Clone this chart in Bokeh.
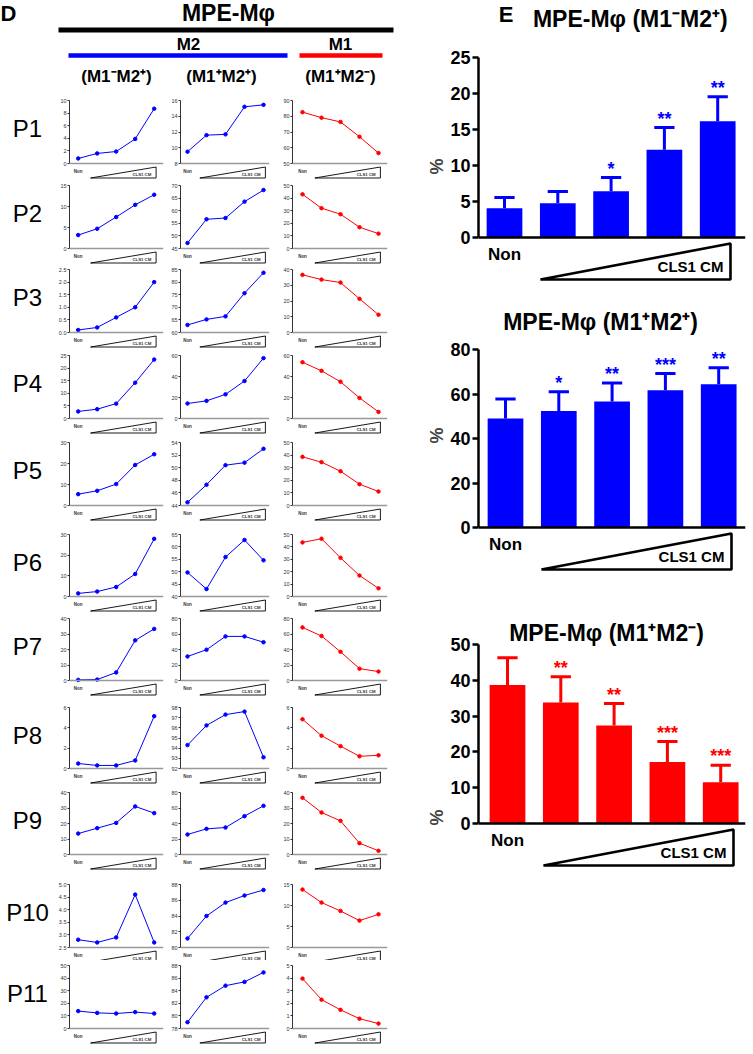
from bokeh.plotting import figure
from bokeh.layouts import row, column
from bokeh.models import Range1d, FixedTicker, Span, NumeralTickFormatter
from bokeh.core.properties import value
from bokeh.embed import file_html
from bokeh.resources import INLINE

# ---------------------------------------------------------------- data
patients = ["P1", "P2", "P3", "P4", "P5", "P6", "P7", "P8", "P9", "P10", "P11"]
dose_levels = [0, 1, 2, 3, 4]          # Non + increasing CLS1 CM

m1neg_m2pos = [
    [0.8, 1.6, 1.9, 3.9, 8.7],
    [3.2, 4.7, 7.5, 10.4, 12.8],
    [0.1, 0.2, 0.6, 1.0, 2.0],
    [2.8, 3.7, 5.9, 14.2, 23.4],
    [5.4, 7.0, 10.2, 19.3, 24.4],
    [1.5, 2.4, 4.6, 10.9, 27.9],
    [0.4, 0.6, 5.2, 25.9, 33.3],
    [0.49, 0.3, 0.3, 0.79, 5.15],
    [13.5, 17.0, 20.4, 31.0, 26.7],
    [2.81, 2.7, 2.9, 4.6, 2.7],
    [13.8, 12.4, 11.9, 13.0, 11.9],
]
m1pos_m2pos = [
    [9.5, 11.6, 11.7, 15.2, 15.45],
    [47.2, 56.6, 57.1, 63.6, 68.2],
    [63.0, 65.2, 66.4, 75.6, 83.7],
    [14.3, 16.8, 23.0, 35.7, 57.5],
    [44.5, 47.3, 50.4, 50.8, 53.0],
    [49.7, 43.0, 55.9, 62.8, 54.6],
    [31.0, 39.7, 56.9, 56.9, 49.4],
    [94.3, 96.24, 97.3, 97.6, 93.1],
    [25.8, 33.1, 34.8, 49.5, 62.8],
    [81.15, 84.0, 85.7, 86.6, 87.3],
    [79.0, 82.95, 84.8, 85.4, 86.9],
]
m1pos_m2neg = [
    [82.6, 79.1, 76.4, 67.0, 56.6],
    [43.0, 32.0, 27.2, 16.9, 11.8],
    [36.6, 33.6, 31.7, 21.4, 11.3],
    [53.6, 45.4, 35.0, 19.6, 6.3],
    [38.6, 34.4, 27.2, 16.9, 11.1],
    [43.6, 46.6, 31.2, 16.9, 6.6],
    [68.5, 57.4, 37.0, 15.3, 11.5],
    [4.84, 3.23, 2.2, 1.2, 1.3],
    [36.6, 27.1, 21.7, 7.3, 2.4],
    [13.8, 10.7, 8.7, 6.4, 7.9],
    [3.96, 2.29, 1.48, 0.78, 0.39],
]
ticks_m1neg_m2pos = [
    [0, 2, 4, 6, 8, 10], [0, 5, 10, 15], [0, 0.5, 1.0, 1.5, 2.0, 2.5],
    [0, 5, 10, 15, 20, 25], [0, 10, 20, 30], [0, 10, 20, 30], [0, 10, 20, 30, 40],
    [0, 2, 4, 6], [0, 10, 20, 30, 40], [2.5, 3.0, 3.5, 4.0, 4.5, 5.0],
    [0, 10, 20, 30, 40, 50],
]
ticks_m1pos_m2pos = [
    [8, 10, 12, 14, 16], [45, 50, 55, 60, 65, 70], [60, 65, 70, 75, 80, 85],
    [0, 20, 40, 60], [44, 46, 48, 50, 52, 54], [40, 45, 50, 55, 60, 65],
    [0, 20, 40, 60, 80], [92, 93, 94, 95, 96, 97, 98], [0, 20, 40, 60, 80],
    [80, 82, 84, 86, 88], [78, 80, 82, 84, 86, 88],
]
ticks_m1pos_m2neg = [
    [50, 60, 70, 80, 90], [0, 10, 20, 30, 40, 50], [0, 10, 20, 30, 40],
    [0, 20, 40, 60], [0, 10, 20, 30, 40, 50], [0, 10, 20, 30, 40, 50],
    [0, 20, 40, 60, 80], [0, 2, 4, 6], [0, 10, 20, 30, 40], [0, 5, 10, 15],
    [0, 1, 2, 3, 4, 5],
]

bar_groups = [0, 1, 2, 3, 4]
mean_m1neg_m2pos = [4.07, 4.77, 6.43, 12.18, 16.16]
sd_m1neg_m2pos = [1.49, 1.62, 1.90, 3.10, 3.38]
stars_m1neg_m2pos = ["", "", "*", "**", "**"]
mean_m1pos_m2pos = [49.0, 52.4, 56.6, 61.7, 64.4]
sd_m1pos_m2pos = [8.7, 8.6, 8.4, 7.5, 7.4]
stars_m1pos_m2pos = ["", "*", "**", "***", "**"]
mean_m1pos_m2neg = [38.7, 33.8, 27.4, 17.2, 11.5]
sd_m1pos_m2neg = [7.6, 7.2, 6.1, 5.7, 4.8]
stars_m1pos_m2neg = ["", "**", "**", "***", "***"]
ticks_bar1 = [0, 5, 10, 15, 20, 25]
ticks_bar2 = [0, 20, 40, 60, 80]
ticks_bar3 = [0, 10, 20, 30, 40, 50]

# ---------------------------------------------------------------- layout geometry (page pixels)
OFF = 0
PAGE_W, PAGE_H = 753, 1054
X_SPLIT = 395
FONT = "Liberation Sans"
BLUE = "#0000ff"
RED = "#ff0000"
BASE_FIX = 0.37          # renderer draws alphabetic baselines ~0.37em low

ROW_TOP = [100, 185, 269, 355, 442, 534, 618, 707, 792, 884, 965]
ROW_BOT = [163, 248, 332, 418, 505, 596, 680, 768, 854, 947, 1028]
ROW_EDGE = [95, 180, 264, 350, 437, 529, 613, 702, 787, 879, 960, PAGE_H - OFF]
# (fig x0, fig x1, frame left, frame right, first point x)
COLS = [(55, 168, 69, 163, 77.7), (168, 273, 180, 269, 187.0), (273, X_SPLIT, 292, 387, 302.0)]
PT_STEP = 19.0


def base_fig(x0, x1, y0, y1, xr, yr, left=0, right=0, yaxis=None):
    p = figure(width=int(round(x1 - x0)), height=int(round(y1 - y0)),
               x_range=xr, y_range=yr, x_axis_location=None, y_axis_location=yaxis,
               min_border_left=int(left), min_border_right=int(right),
               min_border_top=0, min_border_bottom=0,
               toolbar_location=None, output_backend="svg", outline_line_color=None)
    p.grid.visible = False
    return p


def deco_fig(x0, x1, y0, y1):
    return base_fig(x0, x1, y0, y1, Range1d(x0, x1), Range1d(y1, y0))


def fs(size):
    return "%gpx" % size


def txt(p, x, y, s, size, align="center", bold=True, color="black"):
    # y is the visual baseline in page pixels (deco figures use page coordinates)
    p.text(x=[x], y=[y - BASE_FIX * size], text=[s], text_font=value(FONT), text_font_size=fs(size),
           text_font_style="bold" if bold else "normal", text_align=align,
           text_baseline="alphabetic", text_color=color)


# ---------------------------------------------------------------- left header
hdr = deco_fig(OFF, X_SPLIT, OFF, ROW_EDGE[0])
txt(hdr, 0, 20.7, "D", 22, align="left")
txt(hdr, 228, 20.7, "MPE-Mφ", 23)
hdr.segment(x0=[58], y0=[29.5], x1=[393], y1=[29.5], line_color="black", line_width=5)
txt(hdr, 188, 50, "M2", 17)
txt(hdr, 340, 50, "M1", 17)
hdr.segment(x0=[68], y0=[55], x1=[287], y1=[55], line_color=BLUE, line_width=4.5)
hdr.segment(x0=[299], y0=[55], x1=[382], y1=[55], line_color=RED, line_width=4.5)
txt(hdr, 116, 82, "(M1⁻M2⁺)", 17)
txt(hdr, 221, 82, "(M1⁺M2⁺)", 17)
txt(hdr, 340, 82, "(M1⁺M2⁻)", 17)


def label_fig(r):
    p = deco_fig(OFF, COLS[0][0], ROW_EDGE[r], ROW_EDGE[r + 1])
    txt(p, 27, ROW_TOP[r] + 37, patients[r], 24, bold=False)
    return p


def small_panel(vals, ticks, color, c, r):
    x0, x1, fl, fr, fp = COLS[c]
    s0, s1 = ROW_EDGE[r], ROW_EDGE[r + 1]
    top, bot = ROW_TOP[r], ROW_BOT[r]
    lo, hi = ticks[0], ticks[-1]
    ppu = (bot - top) / (hi - lo)
    yr = Range1d(lo - (s1 - bot) / ppu, hi + (top - s0) / ppu)
    xr = Range1d((fl - fp) / PT_STEP, (fr - fp) / PT_STEP)
    p = base_fig(x0, x1, s0, s1, xr, yr, left=fl - x0, right=x1 - fr, yaxis="left")
    ax = p.yaxis[0]
    ax.ticker = FixedTicker(ticks=ticks)
    ax.bounds = (lo, hi)
    if any(float(t) != int(t) for t in ticks):
        ax.formatter = NumeralTickFormatter(format="0.0")
    ax.axis_line_color = "black"
    ax.axis_line_width = 0.8
    ax.major_tick_out = 2
    ax.major_tick_in = 0
    ax.major_tick_line_width = 0.8
    ax.minor_tick_out = 0
    ax.minor_tick_in = 0
    ax.major_label_text_font = FONT
    ax.major_label_text_font_size = "5.5px"
    ax.major_label_text_color = "#333333"
    ax.major_label_standoff = 1
    p.add_layout(Span(location=lo, dimension="width", line_color="#999999", line_width=1.3))
    p.line(dose_levels, vals, line_color=color, line_width=1)
    p.scatter(dose_levels, vals, size=3.5, marker="circle", fill_color=color, line_color=color)

    def below(px):
        return lo - px / ppu
    p.patch([0.65, 4.1, 4.1], [below(14.5), below(3.5), below(14.5)],
            fill_color="white", line_color="black", line_width=0.9)
    p.text(x=[0], y=[below(7.5)], text=["Non"], text_font=value(FONT), text_font_size="4.5px",
           text_font_style="bold", text_align="center", text_baseline="middle", text_color="#333333")
    p.text(x=[3.35], y=[below(10.8)], text=["CLS1 CM"], text_font=value(FONT), text_font_size="4.3px",
           text_font_style="bold", text_align="center", text_baseline="middle", text_color="#333333")
    return p


left_children = [hdr]
for r in range(len(patients)):
    left_children.append(row(
        label_fig(r),
        small_panel(m1neg_m2pos[r], ticks_m1neg_m2pos[r], BLUE, 0, r),
        small_panel(m1pos_m2pos[r], ticks_m1pos_m2pos[r], BLUE, 1, r),
        small_panel(m1pos_m2neg[r], ticks_m1pos_m2neg[r], RED, 2, r),
    ))
left = column(*left_children)

# ---------------------------------------------------------------- right (E) bar panels
AX_X = 478
BAR_STEP = 53.3
RIGHT_X1 = PAGE_W - OFF
FRAME_X1 = 745
TITLES = ["MPE-Mφ (M1⁻M2⁺)", "MPE-Mφ (M1⁺M2⁺)", "MPE-Mφ (M1⁺M2⁻)"]
PANELS = [
    dict(y0=42, y1=290, top=57, bot=237, c0=504.0, tx=598.5, tb=None),
    dict(y0=290, y1=580, top=349, bot=527, c0=505.0, tx=600.0, tb=330.0),
    dict(y0=580, y1=PAGE_H - OFF, top=644, bot=823, c0=507.0, tx=606.0, tb=641.0),
]

h1 = deco_fig(X_SPLIT, RIGHT_X1, OFF, PANELS[0]["y0"])
txt(h1, 422, 22, "E", 22, align="left")
txt(h1, 598.5, 27.3, TITLES[0], 23)


def bar_panel(k, means, sds, stars, ticks, color):
    g = PANELS[k]
    hi = ticks[-1]
    ppu = (g["bot"] - g["top"]) / hi
    yr = Range1d(-(g["y1"] - g["bot"]) / ppu, hi + (g["top"] - g["y0"]) / ppu)
    xr = Range1d((AX_X - g["c0"]) / BAR_STEP, (FRAME_X1 - g["c0"]) / BAR_STEP)
    p = base_fig(X_SPLIT, RIGHT_X1, g["y0"], g["y1"], xr, yr, left=AX_X - X_SPLIT,
                 right=RIGHT_X1 - FRAME_X1, yaxis="left")

    def below(px):
        return -px / ppu

    def py(page_y):
        return (g["bot"] - page_y) / ppu

    def label(x, page_base, s, size):
        p.text(x=[x], y=[py(page_base - BASE_FIX * size)], text=[s], text_font=value(FONT),
               text_font_size=fs(size), text_font_style="bold", text_align="center",
               text_baseline="alphabetic")

    ax = p.yaxis[0]
    ax.ticker = FixedTicker(ticks=ticks)
    ax.bounds = (0, hi)
    ax.axis_line_width = 2.5
    ax.major_tick_out = 6
    ax.major_tick_in = 0
    ax.major_tick_line_width = 2.5
    ax.minor_tick_out = 0
    ax.minor_tick_in = 0
    ax.major_label_text_font = FONT
    ax.major_label_text_font_size = "18px"
    ax.major_label_text_font_style = "bold"
    ax.major_label_text_color = "black"
    ax.major_label_standoff = 2
    ax.axis_label = "%"
    ax.axis_label_text_font = FONT
    ax.axis_label_text_font_size = "18px"
    ax.axis_label_text_font_style = "bold"
    ax.axis_label_standoff = 0

    upper = [m + s for m, s in zip(means, sds)]
    p.vbar(x=bar_groups, top=means, bottom=0, width=0.67, fill_color=color, line_color=None)
    p.segment(x0=bar_groups, y0=means, x1=bar_groups, y1=upper, line_color=color, line_width=3)
    p.segment(x0=[x - 0.19 for x in bar_groups], y0=upper, x1=[x + 0.19 for x in bar_groups], y1=upper,
              line_color=color, line_width=3)
    p.text(x=bar_groups, y=[u + (2.0 + BASE_FIX * 18) / ppu for u in upper], text=stars,
           text_font=value(FONT), text_font_size="18px", text_font_style="bold", text_align="center",
           text_baseline="alphabetic", text_color=color)
    p.add_layout(Span(location=0, dimension="width", line_color="black", line_width=2.5))

    p.patch([0.675, 4.24, 4.24], [below(42), below(6), below(42)], fill_color="white",
            line_color="black", line_width=2.6, line_join="bevel")
    label(0, g["bot"] + 23, "Non", 17)
    label(3.49, g["bot"] + 35, "CLS1 CM", 15)
    if g["tb"] is not None:
        label((g["tx"] - g["c0"]) / BAR_STEP, g["tb"], TITLES[k], 23)
    return p


bp1 = bar_panel(0, mean_m1neg_m2pos, sd_m1neg_m2pos, stars_m1neg_m2pos, ticks_bar1, BLUE)
bp2 = bar_panel(1, mean_m1pos_m2pos, sd_m1pos_m2pos, stars_m1pos_m2pos, ticks_bar2, BLUE)
bp3 = bar_panel(2, mean_m1pos_m2neg, sd_m1pos_m2neg, stars_m1pos_m2neg, ticks_bar3, RED)
right = column(h1, bp1, bp2, bp3)

layout = row(left, right)
open("out.html", "w").write(file_html(layout, INLINE))
